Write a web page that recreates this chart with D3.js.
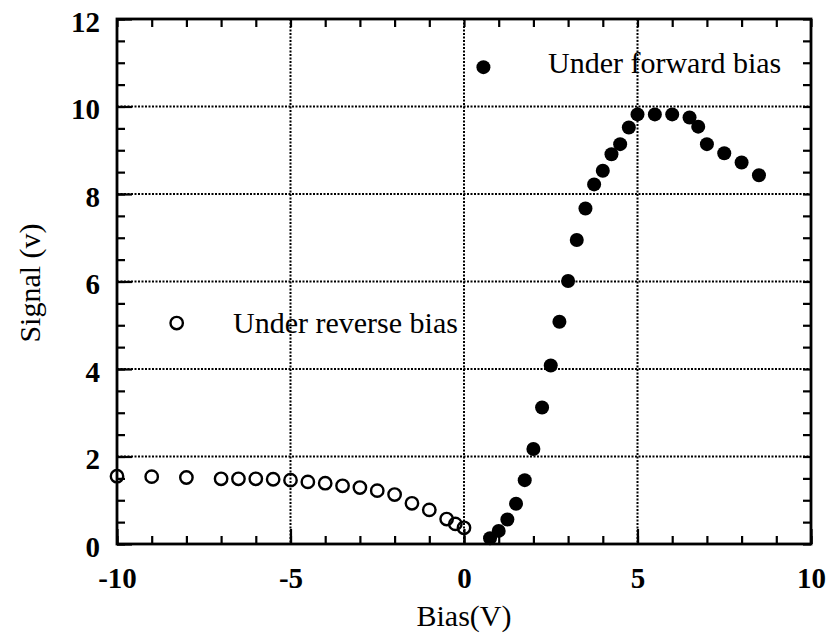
<!DOCTYPE html>
<html>
<head>
<meta charset="utf-8">
<script src="https://cdn.jsdelivr.net/npm/d3@7"></script>
<style>
  body { margin: 0; background: #fff; }
  svg { display: block; font-family: "Liberation Serif", "DejaVu Serif", serif; }
</style>
</head>
<body>
<svg id="chart" width="832" height="634"></svg>
<script>
// data
const reverseBias = [-10, -9, -8, -7, -6.5, -6, -5.5, -5, -4.5, -4, -3.5, -3, -2.5, -2, -1.5, -1, -0.5, -0.25, 0];
const reverseSignal = [1.55, 1.54, 1.52, 1.49, 1.49, 1.49, 1.48, 1.46, 1.42, 1.39, 1.33, 1.29, 1.22, 1.13, 0.93, 0.78, 0.57, 0.46, 0.37];

const forwardBias = [0.75, 1.0, 1.25, 1.5, 1.75, 2.0, 2.25, 2.5, 2.75, 3.0, 3.25, 3.5, 3.75, 4.0, 4.25, 4.5, 4.75, 5.0, 5.5, 6.0, 6.5, 6.75, 7.0, 7.5, 8.0, 8.5];
const forwardSignal = [0.13, 0.3, 0.56, 0.92, 1.46, 2.17, 3.12, 4.08, 5.08, 6.01, 6.95, 7.67, 8.22, 8.53, 8.91, 9.14, 9.52, 9.82, 9.82, 9.82, 9.75, 9.54, 9.14, 8.93, 8.72, 8.43];

const xTicks = [-10, -5, 0, 5, 10];
const yTicks = [0, 2, 4, 6, 8, 10, 12];
const xLabel = "Bias(V)";
const yLabel = "Signal (v)";
const legendForward = "Under forward bias";
const legendReverse = "Under reverse bias";

const svg = d3.select("#chart");
const margin = { top: 19, right: 21, bottom: 90, left: 117 },
      width = +svg.attr("width") - margin.left - margin.right,
      height = +svg.attr("height") - margin.top - margin.bottom;

const g = svg.append("g").attr("transform", `translate(${margin.left},${margin.top})`);

const x = d3.scaleLinear().domain([-10, 10]).range([0, width]);
const y = d3.scaleLinear().domain([0, 12]).range([height, 0]);

const fmt = d => (d < 0 ? "-" + Math.abs(d) : "" + d);

// dotted grid at the inner major ticks
g.append("g").selectAll("line")
  .data(xTicks.slice(1, -1))
  .join("line")
  .attr("x1", d => x(d)).attr("x2", d => x(d))
  .attr("y1", 0).attr("y2", height)
  .attr("stroke", "#000").attr("stroke-width", 2)
  .attr("stroke-dasharray", "2,1.5");

g.append("g").selectAll("line")
  .data(yTicks.slice(1, -1))
  .join("line")
  .attr("y1", d => y(d)).attr("y2", d => y(d))
  .attr("x1", 0).attr("x2", width)
  .attr("stroke", "#000").attr("stroke-width", 2)
  .attr("stroke-dasharray", "2,1.5");

// minor ticks on all four sides, pointing inward
const minorX = d3.range(-10, 10.001, 1);
const minorY = d3.range(0, 12.001, 0.5);
g.append("g").attr("transform", `translate(0,${height})`)
  .call(d3.axisBottom(x).tickValues(minorX).tickSizeInner(-8).tickSizeOuter(0).tickFormat(""));
g.append("g")
  .call(d3.axisTop(x).tickValues(minorX).tickSizeInner(-8).tickSizeOuter(0).tickFormat(""));
g.append("g")
  .call(d3.axisLeft(y).tickValues(minorY).tickSizeInner(-8).tickSizeOuter(0).tickFormat(""));
g.append("g").attr("transform", `translate(${width},0)`)
  .call(d3.axisRight(y).tickValues(minorY).tickSizeInner(-8).tickSizeOuter(0).tickFormat(""));

// major ticks with labels
g.append("g").attr("class", "major").attr("transform", `translate(0,${height})`)
  .call(d3.axisBottom(x).tickValues(xTicks).tickSizeInner(-15).tickSizeOuter(0).tickPadding(23).tickFormat(fmt));
g.append("g").attr("class", "major")
  .call(d3.axisLeft(y).tickValues(yTicks).tickSizeInner(-15).tickSizeOuter(0).tickPadding(17).tickFormat(fmt));

g.selectAll(".domain").remove();
g.selectAll(".tick line").attr("stroke", "#000").attr("stroke-width", 2.2);
g.selectAll(".major text")
  .attr("fill", "#000")
  .style("font-family", "'Liberation Serif', serif")
  .style("font-size", "29px")
  .style("font-weight", "bold");
g.selectAll(".major").filter((d, i) => i === 1).selectAll("text").attr("dy", "0.42em");

// frame
g.append("rect")
  .attr("x", 0).attr("y", 0)
  .attr("width", width).attr("height", height)
  .attr("fill", "none")
  .attr("stroke", "#000")
  .attr("stroke-width", 2.8);

// reverse bias: open circles
g.append("g").selectAll("circle")
  .data(reverseBias.map((b, i) => ({ b, s: reverseSignal[i] })))
  .join("circle")
  .attr("cx", d => x(d.b))
  .attr("cy", d => y(d.s))
  .attr("r", 6.2)
  .attr("fill", "none")
  .attr("stroke", "#000")
  .attr("stroke-width", 2.4);

// forward bias: filled circles
g.append("g").selectAll("circle")
  .data(forwardBias.map((b, i) => ({ b, s: forwardSignal[i] })))
  .join("circle")
  .attr("cx", d => x(d.b))
  .attr("cy", d => y(d.s))
  .attr("r", 7)
  .attr("fill", "#000");

// legends
g.append("circle")
  .attr("cx", x(0.56)).attr("cy", y(10.9))
  .attr("r", 7).attr("fill", "#000");
g.append("text")
  .attr("x", 548 - margin.left).attr("y", 73 - margin.top)
  .style("font-size", "30px")
  .text(legendForward);

g.append("circle")
  .attr("cx", x(-8.28)).attr("cy", y(5.05))
  .attr("r", 6.2).attr("fill", "none")
  .attr("stroke", "#000").attr("stroke-width", 2.4);
g.append("text")
  .attr("x", 233 - margin.left).attr("y", 333 - margin.top)
  .style("font-size", "30px")
  .text(legendReverse);

// axis titles
svg.append("text")
  .attr("x", margin.left + width / 2)
  .attr("y", 626)
  .attr("text-anchor", "middle")
  .style("font-size", "30px")
  .text(xLabel);

svg.append("text")
  .attr("transform", "translate(40,283) rotate(-90)")
  .attr("text-anchor", "middle")
  .style("font-size", "30px")
  .text(yLabel);
</script>
</body>
</html>
